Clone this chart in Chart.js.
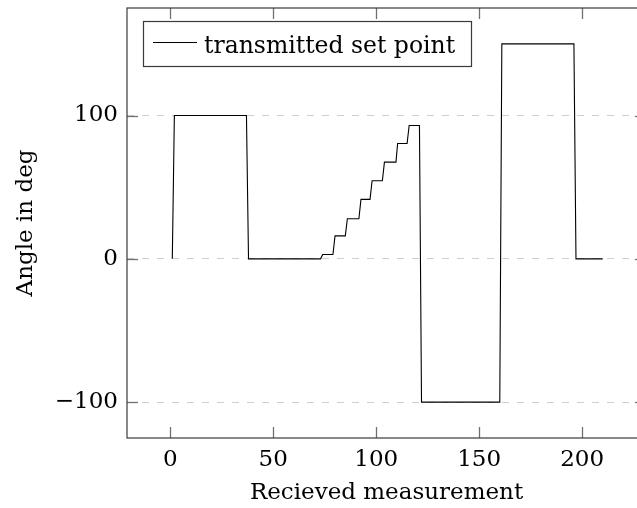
<!DOCTYPE html>
<html>
<head>
<meta charset="utf-8">
<script src="https://cdn.jsdelivr.net/npm/chart.js@4/dist/chart.umd.min.js"></script>
<style>
  html, body { margin: 0; padding: 0; background: #fff; overflow: hidden; width: 637px; height: 508px; }
  #wrap { width: 660px; height: 508px; }
  canvas { display: block; }
</style>
</head>
<body>
<div id="wrap"><canvas id="c" width="660" height="508"></canvas></div>
<script>
// ---- data ----
const seriesLabel = 'transmitted set point';
const xValues = [1, 2, 37, 38, 73, 74, 79, 80, 85, 86, 91.6, 92.6, 97, 98, 103, 104, 109.6, 110.4, 115, 116, 121, 122, 160, 161, 196, 197, 210];
const yValues = [0, 100, 100, 0, 0, 3, 3, 16, 16, 28, 28, 41.5, 41.5, 54.5, 54.5, 67.5, 67.5, 80.5, 80.5, 93, 93, -100, -100, 150, 150, 0, 0];
const xTickValues = [0, 50, 100, 150, 200];
const yTickValues = [-100, 0, 100];
const xTitle = 'Recieved measurement';
const yTitle = 'Angle in deg';

const FONT = 'DejaVu Serif';
const points = xValues.map((x, i) => ({ x: x, y: yValues[i] }));

const frame = {
  id: 'frame',
  afterDatasetsDraw(chart) {
    const ctx = chart.ctx;
    const a = chart.chartArea;
    const xs = chart.scales.x, ys = chart.scales.y;
    ctx.save();
    // inner tick marks
    ctx.strokeStyle = '#707070';
    ctx.lineWidth = 1.3;
    const L = 11;
    xTickValues.forEach(v => {
      const px = Math.round(xs.getPixelForValue(v)) + 0.5;
      ctx.beginPath();
      ctx.moveTo(px, a.bottom); ctx.lineTo(px, a.bottom - L);
      ctx.stroke();
      ctx.beginPath();
      ctx.moveTo(px, a.top); ctx.lineTo(px, a.top + L);
      ctx.stroke();
    });
    yTickValues.forEach(v => {
      const py = Math.round(ys.getPixelForValue(v)) + 0.5;
      ctx.beginPath();
      ctx.moveTo(a.left, py); ctx.lineTo(a.left + L, py);
      ctx.stroke();
      ctx.beginPath();
      ctx.moveTo(a.right, py); ctx.lineTo(a.right - L, py);
      ctx.stroke();
    });
    // axis box
    ctx.strokeStyle = '#3a3a3a';
    ctx.lineWidth = 1.2;
    ctx.strokeRect(a.left, a.top, a.right - a.left, a.bottom - a.top);
    // legend
    const bx = 143.5, by = 21.5, bw = 328, bh = 45;
    ctx.fillStyle = '#fff';
    ctx.fillRect(bx, by, bw, bh);
    ctx.strokeStyle = '#3a3a3a';
    ctx.lineWidth = 1.2;
    ctx.strokeRect(bx, by, bw, bh);
    const ds = chart.data.datasets[0];
    ctx.strokeStyle = ds.borderColor;
    ctx.lineWidth = ds.borderWidth;
    ctx.beginPath();
    ctx.moveTo(153, 42.5); ctx.lineTo(197, 42.5);
    ctx.stroke();
    ctx.fillStyle = '#000';
    ctx.font = '23.5px "' + FONT + '"';
    ctx.textBaseline = 'alphabetic';
    ctx.textAlign = 'left';
    ctx.fillText(ds.label, 204, 52.5);
    ctx.restore();
  }
};

new Chart(document.getElementById('c'), {
  type: 'line',
  data: {
    datasets: [{
      label: seriesLabel,
      data: points,
      borderColor: '#000',
      borderWidth: 1.1,
      pointRadius: 0,
      tension: 0,
      fill: false
    }]
  },
  options: {
    responsive: false,
    animation: false,
    layout: { padding: { top: 8, right: 14, left: 0, bottom: 0 } },
    plugins: { legend: { display: false }, tooltip: { enabled: false } },
    scales: {
      x: {
        type: 'linear',
        min: -21, max: 231,
        afterBuildTicks: s => { s.ticks = xTickValues.map(v => ({ value: v })); },
        afterFit: s => { s.height = 70; s.paddingLeft = 0; s.paddingRight = 0; },
        grid: { display: false, drawTicks: false },
        border: { display: false },
        ticks: { color: '#000', font: { family: FONT, size: 23 }, padding: 8, maxRotation: 0, autoSkip: false },
        title: { display: true, text: xTitle, color: '#000', font: { family: FONT, size: 23 }, padding: { top: 0, bottom: 1 } }
      },
      y: {
        type: 'linear',
        min: -125, max: 175,
        afterBuildTicks: s => { s.ticks = yTickValues.map(v => ({ value: v })); },
        afterFit: s => { s.width = 127; s.paddingTop = 0; s.paddingBottom = 0; },
        grid: { color: '#cfcfcf', lineWidth: 1, drawTicks: false, tickLength: 0 },
        border: { display: false, dash: [7, 8] },
        ticks: {
          color: '#000', font: { family: FONT, size: 23 }, padding: 9,
          callback: v => String(v).replace('-', '\u2212')
        },
        title: { display: true, text: yTitle, color: '#000', font: { family: FONT, size: 23 }, padding: { top: 12, bottom: 0 } }
      }
    }
  },
  plugins: [frame]
});
</script>
</body>
</html>
